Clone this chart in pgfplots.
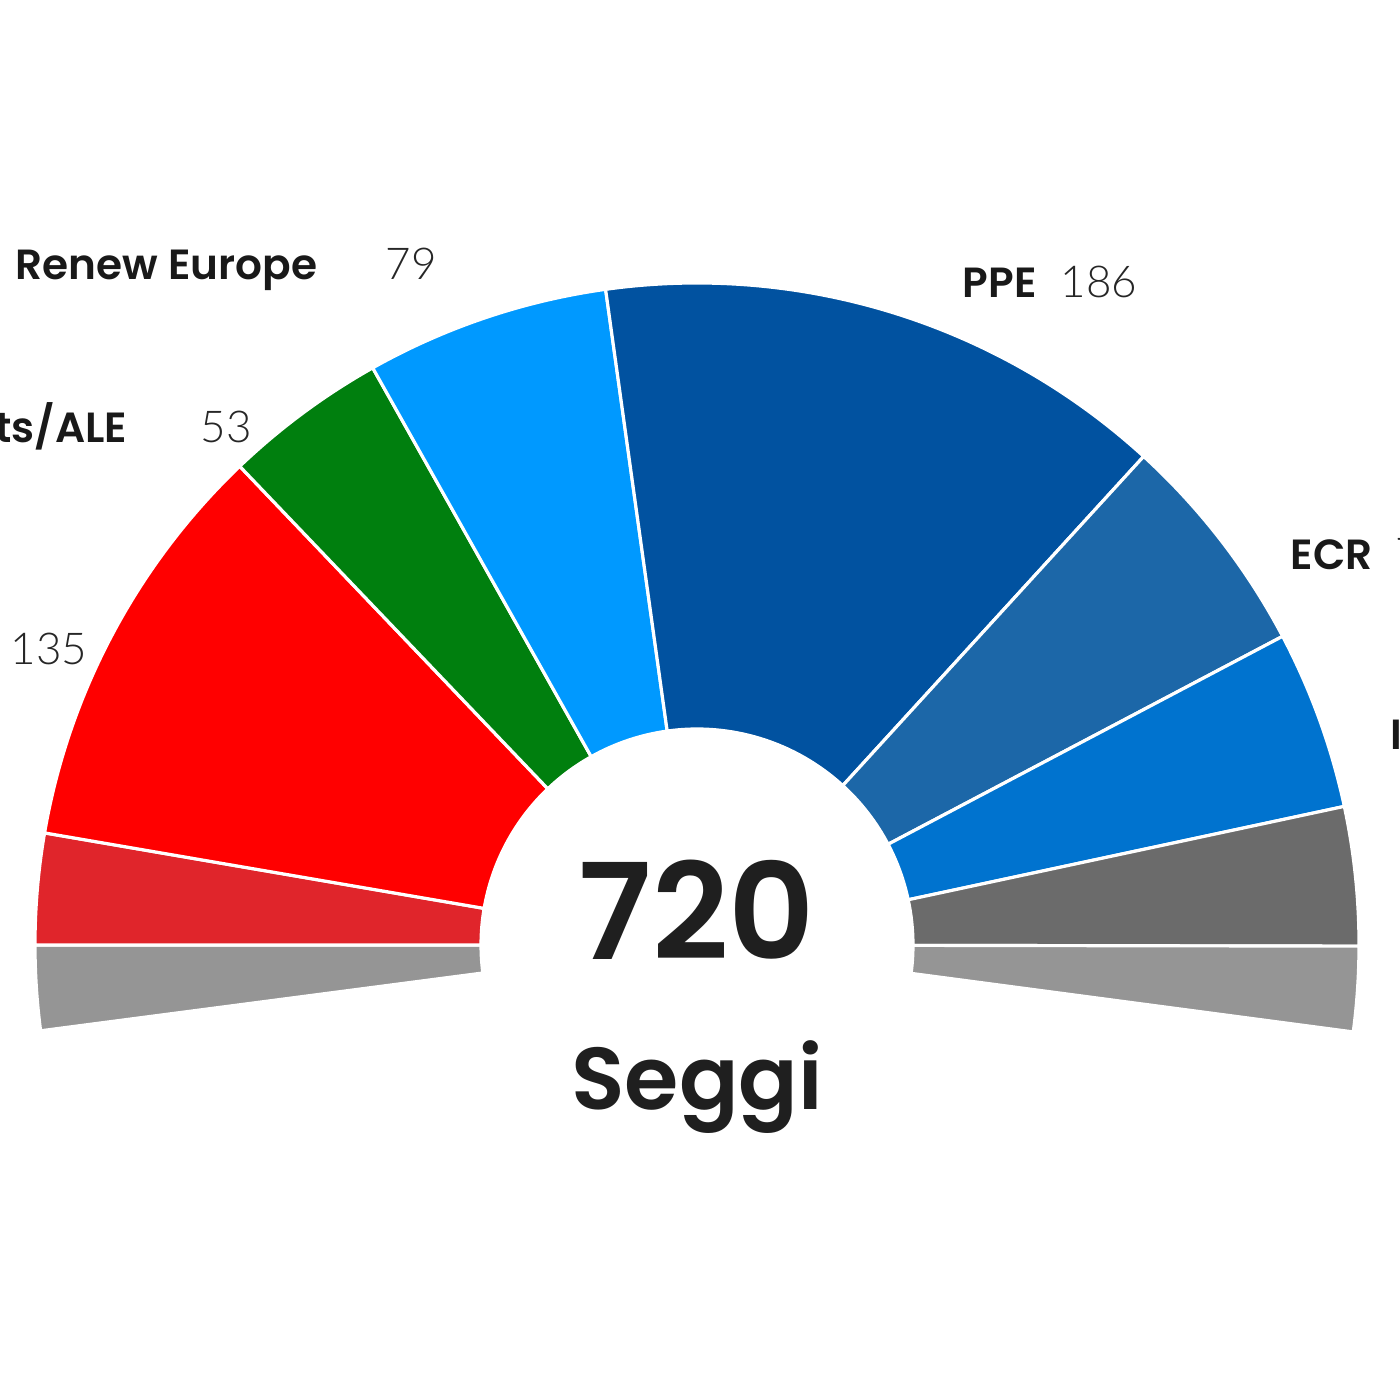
\documentclass[border=0pt]{standalone}
\usepackage{pgfplots}
\pgfplotsset{compat=1.18}
\usepackage{pgfplotstable}
\usepackage{fontspec}
\setmainfont{Poppins}[BoldFont={Poppins SemiBold}]
\newfontfamily\numfont{Lato Light}

\definecolor{cAltri}{HTML}{959595}
\definecolor{cLeft}{HTML}{E0252B}
\definecolor{cSD}{HTML}{FF0000}
\definecolor{cVerts}{HTML}{007F0E}
\definecolor{cRenew}{HTML}{0099FF}
\definecolor{cPPE}{HTML}{0152A0}
\definecolor{cECR}{HTML}{1C67A8}
\definecolor{cID}{HTML}{0073CF}
\definecolor{cNI}{HTML}{6B6B6B}

% seats per group, from left to right
\pgfplotstableread{
name   seats col
Altri  27.5  cAltri
Left   36    cLeft
SD     135   cSD
Verts  53    cVerts
Renew  79    cRenew
PPE    186   cPPE
ECR    73    cECR
ID     58    cID
NI     45    cNI
Altri2 27.5  cAltri
}\seats

\def\ro{6.62}
\def\ri{2.16}
\def\seattotal{720}
\def\totspan{195}
\pgfmathsetmacro\degperseat{\totspan/\seattotal}
\pgfmathsetmacro\startang{180+27.5*\degperseat}

\begin{document}
\begin{tikzpicture}
\useasboundingbox (0,0) rectangle (14,14);
\clip (0,0) rectangle (14,14);
\begin{axis}[
  hide axis, clip=false,
  x=1cm, y=1cm,
  xmin=-6.97, xmax=7.03, ymin=-4.55, ymax=9.45,
  at={(0,0)}, anchor=south west,
]
\def\cum{0}
\pgfplotsforeachungrouped \i in {0,...,9}{%
  \pgfplotstablegetelem{\i}{seats}\of\seats
  \let\segval\pgfplotsretval
  \pgfplotstablegetelem{\i}{col}\of\seats
  \let\segcol\pgfplotsretval
  \pgfmathsetmacro\angA{\startang - \cum*\degperseat}
  \pgfmathsetmacro\cum{\cum+\segval}
  \pgfmathsetmacro\angB{\startang - \cum*\degperseat}
  \pgfmathsetmacro\xoa{\ro*cos(\angA)}
  \pgfmathsetmacro\yoa{\ro*sin(\angA)}
  \pgfmathsetmacro\xib{\ri*cos(\angB)}
  \pgfmathsetmacro\yib{\ri*sin(\angB)}
  \edef\temp{\noexpand\fill[\segcol, draw=white, line width=0.9pt, line join=round]
     (axis cs:\xoa,\yoa) arc[start angle=\angA, end angle=\angB, radius=\ro cm]
     -- (axis cs:\xib,\yib) arc[start angle=\angB, end angle=\angA, radius=\ri cm] -- cycle;}%
  \temp
}

% labels
\tikzset{lab/.style={font=\fontsize{12}{14}\selectfont\bfseries, text=black!90, inner sep=0pt},
         num/.style={font=\fontsize{12.5}{14}\selectfont\numfont, text=black!85, inner sep=0pt}}
\node[lab, anchor=base west] at (axis cs:-6.82,6.65) {Renew Europe};
\node[num, anchor=base west] at (axis cs:-3.12,6.65) {79};
\node[lab, anchor=base east] at (axis cs:-5.69,5.02) {Verts/ALE};
\node[num, anchor=base west] at (axis cs:-4.97,5.02) {53};
\node[lab, anchor=base east] at (axis cs:-7.59,2.80) {S\&D};
\node[num, anchor=base west] at (axis cs:-6.87,2.80) {135};
\node[lab, anchor=base west] at (axis cs:2.65,6.47) {PPE};
\node[num, anchor=base west] at (axis cs:3.63,6.47) {186};
\node[lab, anchor=base west] at (axis cs:5.93,3.75) {ECR};
\node[num, anchor=base west] at (axis cs:6.98,3.75) {73};
\node[lab, anchor=base west] at (axis cs:6.93,1.95) {ID};
\node[num, anchor=base west] at (axis cs:7.50,1.95) {58};

\node[anchor=base, inner sep=0pt, text=black!88, font=\fontsize{38}{40}\selectfont\bfseries] at (axis cs:0,-0.15) {720};
\node[anchor=base, inner sep=0pt, text=black!88, font=\fontsize{25}{28}\selectfont\bfseries] at (axis cs:0,-1.65) {Seggi};
\end{axis}
\end{tikzpicture}
\end{document}
